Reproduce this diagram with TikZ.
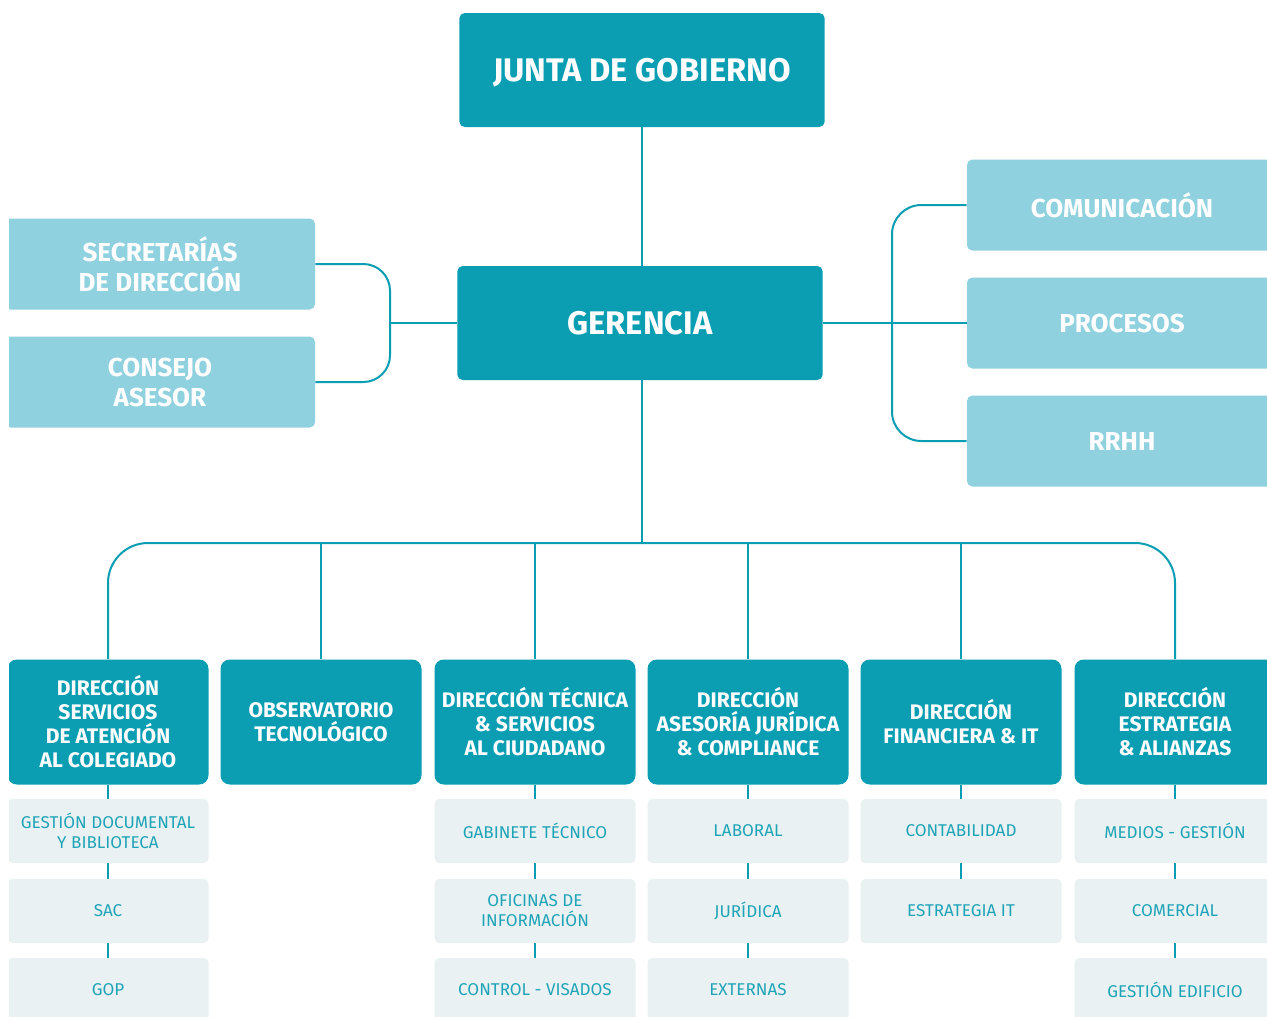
\documentclass[tikz,border=0pt]{standalone}
\usepackage{fontspec}
\setmainfont{Fira Sans}
\usetikzlibrary{positioning}
\definecolor{tealdark}{HTML}{0B9EB3}
\definecolor{teallight}{HTML}{8FD1DF}
\definecolor{greybox}{HTML}{E9F1F3}
\definecolor{tealtext}{HTML}{1FA4B7}

\tikzset{
  topbox/.style={rectangle, rounded corners=4pt, fill=tealdark, text=white, text depth=0pt,
    font=\bfseries\fontsize{24.5}{28}\selectfont, minimum width=274pt, minimum height=85.5pt},
  sidebox/.style={rectangle, rounded corners=4pt, fill=teallight, text=white, align=center,
    font=\bfseries\fontsize{19.5}{22.5}\selectfont, minimum width=232.5pt, minimum height=68.25pt},
  dirbox/.style={rectangle, rounded corners=7pt, fill=tealdark, text=white, align=center,
    font=\bfseries\fontsize{15.8}{18}\selectfont, minimum width=150.75pt, minimum height=93.75pt, inner sep=1pt},
  subbox/.style={rectangle, rounded corners=3.5pt, fill=greybox, text=tealtext, align=center,
    font=\fontsize{12.8}{15}\selectfont, minimum width=150.75pt, minimum height=48pt, inner sep=1pt},
  link/.style={draw=tealdark, line width=1.5pt}
}

\begin{document}
\begin{tikzpicture}[x=0.75pt,y=0.75pt,yscale=-1,xscale=1]
  \fill[white] (0,0) rectangle (1267,1017);
  \useasboundingbox (0,0) rectangle (1267,1017);
  \clip (9,0) rectangle (1267,1017);

  % top of the chart
  \node[topbox] (junta) at (642,70) {JUNTA DE GOBIERNO};
  \node[topbox] (gerencia) at (640,323) {GERENCIA};

  % boxes beside gerencia
  \node[sidebox] (secretarias) at (160,264) {SECRETARÍAS\\DE DIRECCIÓN};
  \node[sidebox] (consejo) at (160,382) {CONSEJO\\ASESOR};
  \node[sidebox] (comunicacion) at (1122,205) {COMUNICACIÓN};
  \node[sidebox] (procesos) at (1122,323) {PROCESOS};
  \node[sidebox] (rrhh) at (1122,441) {RRHH};

  % directions
  \node[dirbox] (dsac) at (108,722) {DIRECCIÓN\\SERVICIOS\\DE ATENCIÓN\\AL COLEGIADO};
  \node[dirbox] (obs) at (321,722) {OBSERVATORIO\\TECNOLÓGICO};
  \node[dirbox] (dtec) at (535,722) {DIRECCIÓN TÉCNICA\\\& SERVICIOS\\AL CIUDADANO};
  \node[dirbox] (djur) at (748,722) {DIRECCIÓN\\ASESORÍA JURÍDICA\\\& COMPLIANCE};
  \node[dirbox] (dfin) at (961,722) {DIRECCIÓN\\FINANCIERA \& IT};
  \node[dirbox] (dest) at (1175,722) {DIRECCIÓN\\ESTRATEGIA\\\& ALIANZAS};

  % departments
  \node[subbox] (gestdoc) at (108,831) {GESTIÓN DOCUMENTAL\\Y BIBLIOTECA};
  \node[subbox] (sac) at (108,911) {SAC};
  \node[subbox] (gop) at (108,990) {GOP};
  \node[subbox] (gabinete) at (535,831) {GABINETE TÉCNICO};
  \node[subbox] (oficinas) at (535,911) {OFICINAS DE\\INFORMACIÓN};
  \node[subbox] (visados) at (535,990) {CONTROL - VISADOS};
  \node[subbox] (laboral) at (748,831) {LABORAL};
  \node[subbox] (juridica) at (748,911) {JURÍDICA};
  \node[subbox] (externas) at (748,990) {EXTERNAS};
  \node[subbox] (contab) at (961,831) {CONTABILIDAD};
  \node[subbox] (estrit) at (961,911) {ESTRATEGIA IT};
  \node[subbox] (medios) at (1175,831) {MEDIOS - GESTIÓN};
  \node[subbox] (comercial) at (1175,911) {COMERCIAL};
  \node[subbox] (edificio) at (1175,990) {GESTIÓN EDIFICIO};

  % connectors
  \coordinate (lbar) at (390,323);
  \coordinate (rbar) at (892,323);
  \coordinate (bus) at (642,543);
  \draw[link] (junta.south) -- (junta.south |- gerencia.north);
  \draw[link, rounded corners=20pt] (secretarias.east) -| (lbar) |- (consejo.east);
  \draw[link] (lbar) -- (gerencia.west);
  \draw[link, rounded corners=22pt] (comunicacion.west) -| (rbar) |- (rrhh.west);
  \draw[link] (gerencia.east) -- (procesos.west);
  \draw[link] (bus |- gerencia.south) -- (bus);
  \draw[link, rounded corners=30pt] (dsac.north) |- (bus) -| (dest.north);
  \draw[link] (obs.north) -- (obs.north |- bus);
  \draw[link] (dtec.north) -- (dtec.north |- bus);
  \draw[link] (djur.north) -- (djur.north |- bus);
  \draw[link] (dfin.north) -- (dfin.north |- bus);

  \draw[link] (dsac) -- (gestdoc) -- (sac) -- (gop);
  \draw[link] (dtec) -- (gabinete) -- (oficinas) -- (visados);
  \draw[link] (djur) -- (laboral) -- (juridica) -- (externas);
  \draw[link] (dfin) -- (contab) -- (estrit);
  \draw[link] (dest) -- (medios) -- (comercial) -- (edificio);
\end{tikzpicture}
\end{document}
